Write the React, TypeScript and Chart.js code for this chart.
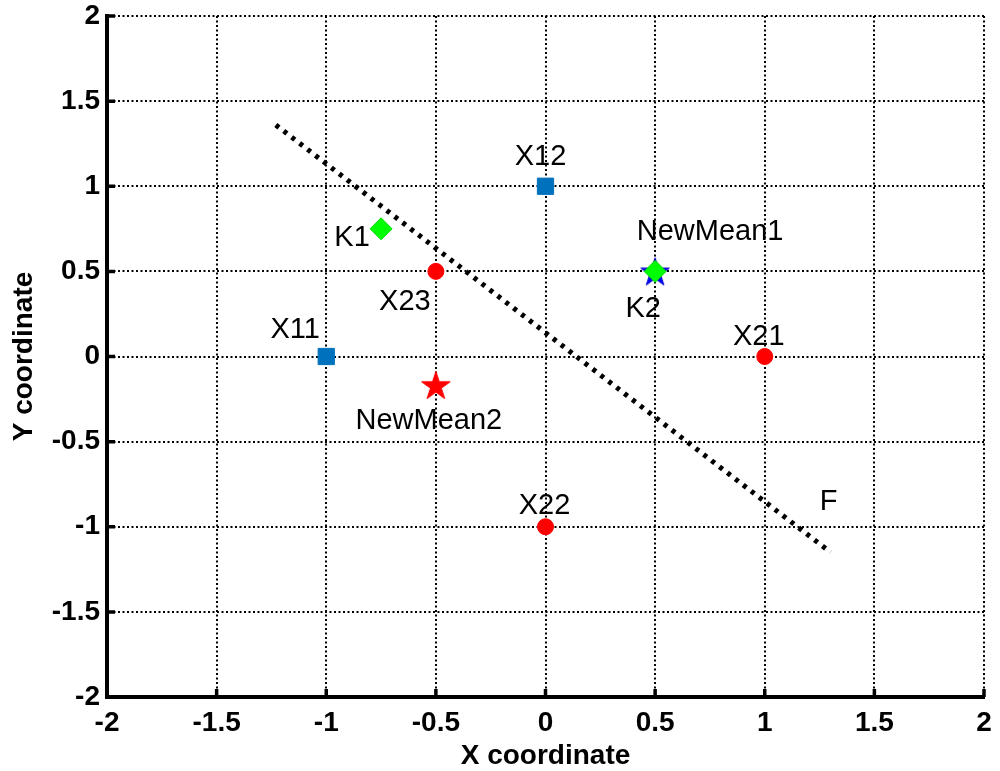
import React, { useEffect, useRef } from "react";
import { Chart, registerables } from "chart.js";
Chart.register(...registerables);

// ---- data ----
const tickValues = [-2, -1.5, -1, -0.5, 0, 0.5, 1, 1.5, 2];
const tickLabels = ["-2", "-1.5", "-1", "-0.5", "0", "0.5", "1", "1.5", "2"];

const class1Names = ["X11", "X12"];
const class1X = [-1, 0];
const class1Y = [0, 1];

const class2Names = ["X21", "X22", "X23"];
const class2X = [1, 0, -0.5];
const class2Y = [0, -1, 0.5];

const centroidNames = ["K1", "K2"];
const centroidX = [-0.75, 0.5];
const centroidY = [0.75, 0.5];

const newMeanNames = ["NewMean1", "NewMean2"];
const newMeanX = [0.5, -0.5];
const newMeanY = [0.5, -0.1667];

const boundaryName = "F";
const boundaryX = [-1.23, 1.3];
const boundaryY = [1.36, -1.15];

const xTitle = "X coordinate";
const yTitle = "Y coordinate";

// label offsets (pixels) relative to their anchor point
const labelOffsets: Record<string, [number, number]> = {
  X11: [-31, -29],
  X12: [-5, -31],
  X21: [-6, -22],
  X22: [-1, -23],
  X23: [-31, 29],
  K1: [-29, 7],
  K2: [-12, 36],
  NewMean1: [55, -41],
  NewMean2: [-7, 34],
  F: [-2, -52],
};

const FONT = '"Liberation Sans", Arial, Helvetica, sans-serif';

function makeStar(R: number, fill: string, stroke: string): HTMLCanvasElement {
  const size = Math.ceil(2 * R + 4);
  const c = document.createElement("canvas");
  c.width = size;
  c.height = size;
  const ctx = c.getContext("2d")!;
  const cx = size / 2;
  const cy = size / 2 + R * 0.1;
  const r = R * 0.382;
  ctx.beginPath();
  for (let i = 0; i < 10; i++) {
    const rad = i % 2 === 0 ? R : r;
    const a = -Math.PI / 2 + (i * Math.PI) / 5;
    const px = cx + rad * Math.cos(a);
    const py = cy + rad * Math.sin(a);
    if (i === 0) ctx.moveTo(px, py);
    else ctx.lineTo(px, py);
  }
  ctx.closePath();
  ctx.fillStyle = fill;
  ctx.fill();
  ctx.lineWidth = 1;
  ctx.strokeStyle = stroke;
  ctx.stroke();
  return c;
}

const zip = (xs: number[], ys: number[]) => xs.map((x, i) => ({ x, y: ys[i] }));

const zeroPad = (s: any) => {
  s.paddingTop = 0;
  s.paddingBottom = 0;
  s.paddingLeft = 0;
  s.paddingRight = 0;
};

export default function App() {
  const ref = useRef<HTMLCanvasElement | null>(null);

  useEffect(() => {
    if (!ref.current) return;
    const redStar = makeStar(15, "#FF0000", "#FF0000");
    const blueStar = makeStar(15, "#0000FF", "#0000CC");

    const labels: { text: string; x: number; y: number }[] = [];
    class1Names.forEach((n, i) => labels.push({ text: n, x: class1X[i], y: class1Y[i] }));
    class2Names.forEach((n, i) => labels.push({ text: n, x: class2X[i], y: class2Y[i] }));
    centroidNames.forEach((n, i) => labels.push({ text: n, x: centroidX[i], y: centroidY[i] }));
    newMeanNames.forEach((n, i) => labels.push({ text: n, x: newMeanX[i], y: newMeanY[i] }));
    labels.push({ text: boundaryName, x: boundaryX[1], y: boundaryY[1] });

    const labelPlugin = {
      id: "pointLabels",
      afterDatasetsDraw(chart: any) {
        const { ctx, scales } = chart;
        ctx.save();
        ctx.font = `29px ${FONT}`;
        ctx.fillStyle = "#000";
        ctx.textAlign = "center";
        ctx.textBaseline = "alphabetic";
        labels.forEach((l) => {
          const off = labelOffsets[l.text] || [0, 0];
          const px = scales.x.getPixelForValue(l.x) + off[0];
          const py = scales.y.getPixelForValue(l.y) + off[1];
          ctx.fillText(l.text, px, py + 10);
        });
        ctx.restore();
      },
    };

    const tickPlugin = {
      id: "innerTicks",
      beforeDatasetsDraw(chart: any) {
        const { ctx, scales, chartArea } = chart;
        ctx.save();
        ctx.strokeStyle = "#000";
        ctx.lineWidth = 3.5;
        ctx.beginPath();
        scales.x.ticks.forEach((t: any) => {
          const px = scales.x.getPixelForValue(t.value);
          ctx.moveTo(px, chartArea.bottom);
          ctx.lineTo(px, chartArea.bottom - 8);
        });
        scales.y.ticks.forEach((t: any) => {
          const py = scales.y.getPixelForValue(t.value);
          ctx.moveTo(chartArea.left, py);
          ctx.lineTo(chartArea.left + 8, py);
        });
        ctx.stroke();
        ctx.restore();
      },
    };

    const tickCallback = (v: any) => {
      const idx = tickValues.findIndex((t) => Math.abs(t - Number(v)) < 1e-9);
      return idx >= 0 ? tickLabels[idx] : "";
    };

    const chart = new Chart(ref.current, {
      type: "scatter",
      data: {
        datasets: [
          {
            label: "boundary",
            data: zip(boundaryX, boundaryY),
            showLine: true,
            borderColor: "#000",
            borderWidth: 5,
            borderDash: [4, 6],
            pointRadius: 0,
            order: 5,
          } as any,
          {
            label: "class1",
            data: zip(class1X, class1Y),
            pointStyle: "rect",
            pointRadius: 11.5,
            backgroundColor: "#0072BD",
            borderColor: "#0072BD",
            borderWidth: 1,
            order: 4,
          },
          {
            label: "class2",
            data: zip(class2X, class2Y),
            pointStyle: "circle",
            pointRadius: 8,
            backgroundColor: "#FF0000",
            borderColor: "#FF0000",
            borderWidth: 1,
            order: 4,
          },
          {
            label: "newMean",
            data: zip(newMeanX, newMeanY),
            pointStyle: [blueStar, redStar] as any,
            pointRadius: 15,
            order: 3,
          } as any,
          {
            label: "centroid",
            data: zip(centroidX, centroidY),
            pointStyle: "rectRot",
            pointRadius: 11,
            backgroundColor: "#00FF00",
            borderColor: "#00DD00",
            borderWidth: 1,
            order: 1,
          },
        ],
      },
      options: {
        animation: false,
        responsive: false,
        maintainAspectRatio: false,
        events: [],
        layout: { padding: { top: 15, right: 11, left: 0, bottom: 0 } },
        plugins: {
          legend: { display: false },
          tooltip: { enabled: false },
        },
        scales: {
          x: {
            type: "linear",
            min: -2,
            max: 2,
            afterFit: (s: any) => {
              s.height = 74;
              zeroPad(s);
            },
            afterBuildTicks: (s: any) => {
              s.ticks = tickValues.map((v) => ({ value: v }));
            },
            ticks: {
              callback: tickCallback,
              color: "#000",
              padding: 12,
              maxRotation: 0,
              autoSkip: false,
              font: { family: FONT, size: 28, weight: "bold", lineHeight: 1 },
            },
            grid: {
              color: "#000",
              lineWidth: 2,
              drawTicks: false,
            },
            border: { display: true, color: "#000", width: 4, dash: [2, 2.5] },
            title: {
              display: true,
              text: xTitle,
              color: "#000",
              padding: { top: 0, bottom: 1 },
              font: { family: FONT, size: 28, weight: "bold", lineHeight: 1 },
            },
          },
          y: {
            type: "linear",
            min: -2,
            max: 2,
            afterFit: (s: any) => {
              s.width = 107;
              zeroPad(s);
            },
            afterBuildTicks: (s: any) => {
              s.ticks = tickValues.map((v) => ({ value: v }));
            },
            ticks: {
              callback: tickCallback,
              color: "#000",
              padding: 7,
              autoSkip: false,
              font: { family: FONT, size: 28, weight: "bold", lineHeight: 1 },
            },
            grid: {
              color: "#000",
              lineWidth: 2,
              drawTicks: false,
            },
            border: { display: true, color: "#000", width: 4, dash: [2, 2.5] },
            title: {
              display: true,
              text: yTitle,
              color: "#000",
              padding: { top: 10, bottom: 0 },
              font: { family: FONT, size: 28, weight: "bold", lineHeight: 1 },
            },
          },
        },
      } as any,
      plugins: [tickPlugin, labelPlugin],
    });
    return () => chart.destroy();
  }, []);

  return (
    <div style={{ position: "absolute", left: 0, top: 0, width: 1000, height: 771, background: "#fff" }}>
      <canvas ref={ref} width={1000} height={771} style={{ width: 1000, height: 771, display: "block" }} />
    </div>
  );
}
